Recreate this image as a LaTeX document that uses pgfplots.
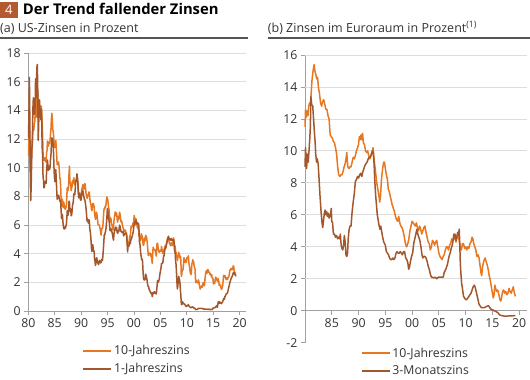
\documentclass[border=0pt]{standalone}
\usepackage{fontspec}
\setmainfont{Open Sans}
\usepackage{pgfplots}
\usepackage{pgfplotstable}
\pgfplotsset{compat=1.18}
\definecolor{orng}{HTML}{E87722}
\definecolor{brwn}{HTML}{A3572D}
\definecolor{boxc}{HTML}{B35A33}
\definecolor{axgray}{HTML}{A0A0A0}
\definecolor{gridc}{HTML}{DDDDDD}
\definecolor{txt}{HTML}{333333}
\definecolor{rulec}{HTML}{555555}

% US 10-year, monthly from Jan 1980
\pgfplotstableread[row sep=\\]{v\\
10.8\\ 12.4\\ 12.9\\ 11.5\\ 10.2\\ 9.8\\ 10.25\\ 11.1\\ 11.5\\ 11.75\\ 12.7\\ 12.85\\
12.6\\ 13.1\\ 13.1\\ 13.7\\ 14.1\\ 13.5\\ 14.3\\ 14.9\\ 15.6\\ 15.15\\ 13.4\\ 13.7\\
14.6\\ 14.4\\ 13.9\\ 13.9\\ 13.6\\ 14.3\\ 13.95\\ 13.1\\ 12.3\\ 10.9\\ 10.55\\ 10.5\\
10.5\\ 10.7\\ 10.5\\ 10.4\\ 10.4\\ 11.0\\ 11.2\\ 11.85\\ 11.65\\ 11.5\\ 11.7\\ 11.8\\
11.7\\ 11.9\\ 12.4\\ 12.7\\ 13.4\\ 13.8\\ 13.4\\ 12.7\\ 12.5\\ 12.2\\ 11.6\\ 11.5\\
11.4\\ 11.5\\ 11.9\\ 11.4\\ 10.85\\ 10.2\\ 10.3\\ 10.3\\ 10.4\\ 10.2\\ 9.8\\ 9.3\\
9.2\\ 8.7\\ 7.8\\ 7.3\\ 7.7\\ 7.8\\ 7.3\\ 7.2\\ 7.6\\ 7.4\\ 7.3\\ 7.1\\
7.1\\ 7.25\\ 7.25\\ 8.0\\ 8.6\\ 8.4\\ 8.45\\ 8.75\\ 9.6\\ 10.1\\ 8.9\\ 9.0\\
8.7\\ 8.4\\ 8.6\\ 8.7\\ 9.1\\ 8.9\\ 9.1\\ 9.3\\ 9.0\\ 8.8\\ 8.95\\ 9.1\\
9.1\\ 9.2\\ 9.4\\ 9.2\\ 8.9\\ 8.3\\ 8.0\\ 8.1\\ 8.2\\ 8.0\\ 7.9\\ 7.8\\
8.2\\ 8.5\\ 8.6\\ 8.8\\ 8.8\\ 8.5\\ 8.5\\ 8.75\\ 8.9\\ 8.7\\ 8.4\\ 8.1\\
8.1\\ 7.85\\ 8.1\\ 8.0\\ 8.1\\ 8.3\\ 8.3\\ 7.9\\ 7.65\\ 7.5\\ 7.4\\ 7.1\\
7.0\\ 7.3\\ 7.5\\ 7.5\\ 7.4\\ 7.3\\ 6.8\\ 6.6\\ 6.4\\ 6.6\\ 6.9\\ 6.8\\
6.6\\ 6.3\\ 6.0\\ 6.0\\ 6.0\\ 6.0\\ 5.8\\ 5.7\\ 5.4\\ 5.3\\ 5.7\\ 5.8\\
5.75\\ 5.97\\ 6.48\\ 6.97\\ 7.18\\ 7.10\\ 7.30\\ 7.24\\ 7.46\\ 7.74\\ 7.96\\ 7.81\\
7.78\\ 7.47\\ 7.20\\ 7.06\\ 6.63\\ 6.17\\ 6.28\\ 6.49\\ 6.20\\ 6.04\\ 5.93\\ 5.71\\
5.65\\ 5.81\\ 6.27\\ 6.51\\ 6.74\\ 6.91\\ 6.87\\ 6.64\\ 6.83\\ 6.53\\ 6.20\\ 6.30\\
6.58\\ 6.42\\ 6.69\\ 6.89\\ 6.71\\ 6.49\\ 6.22\\ 6.30\\ 6.21\\ 6.03\\ 5.88\\ 5.81\\
5.54\\ 5.57\\ 5.65\\ 5.64\\ 5.65\\ 5.50\\ 5.46\\ 5.34\\ 4.81\\ 4.53\\ 4.83\\ 4.65\\
4.72\\ 5.00\\ 5.23\\ 5.18\\ 5.54\\ 5.90\\ 5.79\\ 5.94\\ 5.92\\ 6.11\\ 6.03\\ 6.28\\
6.66\\ 6.52\\ 6.26\\ 5.99\\ 6.44\\ 6.10\\ 6.05\\ 5.83\\ 5.80\\ 5.74\\ 5.72\\ 5.24\\
5.16\\ 5.10\\ 4.89\\ 5.14\\ 5.39\\ 5.28\\ 5.24\\ 4.97\\ 4.73\\ 4.57\\ 4.65\\ 5.09\\
5.04\\ 4.91\\ 5.28\\ 5.21\\ 5.16\\ 4.93\\ 4.65\\ 4.26\\ 3.87\\ 3.94\\ 4.05\\ 4.03\\
4.05\\ 3.90\\ 3.81\\ 3.96\\ 3.57\\ 3.33\\ 3.98\\ 4.45\\ 4.27\\ 4.29\\ 4.30\\ 4.27\\
4.15\\ 4.08\\ 3.83\\ 4.35\\ 4.72\\ 4.73\\ 4.50\\ 4.28\\ 4.13\\ 4.10\\ 4.19\\ 4.23\\
4.22\\ 4.17\\ 4.50\\ 4.34\\ 4.14\\ 4.00\\ 4.18\\ 4.26\\ 4.20\\ 4.46\\ 4.54\\ 4.47\\
4.42\\ 4.57\\ 4.72\\ 4.99\\ 5.11\\ 5.11\\ 5.09\\ 4.88\\ 4.72\\ 4.73\\ 4.60\\ 4.56\\
4.76\\ 4.72\\ 4.56\\ 4.69\\ 4.75\\ 5.10\\ 5.00\\ 4.67\\ 4.52\\ 4.53\\ 4.15\\ 4.10\\
3.74\\ 3.74\\ 3.51\\ 3.68\\ 3.88\\ 4.10\\ 4.01\\ 3.89\\ 3.69\\ 3.81\\ 3.53\\ 2.42\\
2.52\\ 2.87\\ 2.82\\ 2.93\\ 3.29\\ 3.72\\ 3.56\\ 3.59\\ 3.40\\ 3.39\\ 3.40\\ 3.59\\
3.73\\ 3.69\\ 3.73\\ 3.85\\ 3.42\\ 3.20\\ 3.01\\ 2.70\\ 2.65\\ 2.54\\ 2.76\\ 3.29\\
3.39\\ 3.58\\ 3.41\\ 3.46\\ 3.17\\ 3.00\\ 3.00\\ 2.30\\ 1.98\\ 2.15\\ 2.01\\ 1.98\\
1.97\\ 1.97\\ 2.17\\ 2.05\\ 1.80\\ 1.62\\ 1.53\\ 1.68\\ 1.72\\ 1.75\\ 1.65\\ 1.72\\
1.91\\ 1.98\\ 1.96\\ 1.76\\ 1.93\\ 2.30\\ 2.58\\ 2.74\\ 2.81\\ 2.62\\ 2.72\\ 2.90\\
2.86\\ 2.71\\ 2.72\\ 2.71\\ 2.56\\ 2.60\\ 2.54\\ 2.42\\ 2.53\\ 2.30\\ 2.33\\ 2.21\\
1.88\\ 1.98\\ 2.04\\ 1.94\\ 2.20\\ 2.36\\ 2.32\\ 2.17\\ 2.17\\ 2.07\\ 2.26\\ 2.24\\
2.09\\ 1.78\\ 1.89\\ 1.81\\ 1.81\\ 1.64\\ 1.50\\ 1.56\\ 1.63\\ 1.76\\ 2.14\\ 2.49\\
2.43\\ 2.42\\ 2.48\\ 2.30\\ 2.30\\ 2.19\\ 2.32\\ 2.21\\ 2.20\\ 2.36\\ 2.35\\ 2.40\\
2.58\\ 2.86\\ 2.84\\ 2.87\\ 2.98\\ 2.91\\ 2.89\\ 2.89\\ 3.00\\ 3.15\\ 3.12\\ 2.83\\
2.71\\ 2.68\\ 2.57\\ 2.53\\
}\ustenyr

% US 1-year, monthly from Jan 1980
\pgfplotstableread[row sep=\\]{v\\
12.06\\ 13.92\\ 16.3\\ 13.30\\ 9.39\\ 7.7\\ 8.65\\ 10.24\\ 11.52\\ 12.49\\ 14.15\\ 14.88\\
14.08\\ 14.57\\ 13.71\\ 14.32\\ 16.20\\ 14.86\\ 15.72\\ 17.0\\ 17.2\\ 15.38\\ 11.9\\ 12.85\\
14.32\\ 14.73\\ 13.95\\ 13.98\\ 13.34\\ 14.07\\ 13.24\\ 11.43\\ 10.85\\ 9.32\\ 9.16\\ 8.6\\
8.62\\ 8.92\\ 9.04\\ 8.98\\ 8.90\\ 9.66\\ 10.20\\ 10.53\\ 10.16\\ 9.81\\ 9.94\\ 10.11\\
9.90\\ 10.04\\ 10.59\\ 10.90\\ 11.66\\ 12.08\\ 12.03\\ 11.82\\ 11.58\\ 10.90\\ 9.82\\ 9.33\\
9.02\\ 9.29\\ 9.86\\ 9.14\\ 8.46\\ 7.80\\ 7.86\\ 8.05\\ 8.07\\ 8.01\\ 7.88\\ 7.67\\
7.73\\ 7.61\\ 7.03\\ 6.44\\ 6.65\\ 6.73\\ 6.27\\ 5.93\\ 5.77\\ 5.72\\ 5.80\\ 5.87\\
5.78\\ 5.96\\ 6.03\\ 6.50\\ 7.00\\ 6.80\\ 6.68\\ 7.03\\ 7.67\\ 7.59\\ 6.96\\ 7.17\\
6.99\\ 6.64\\ 6.71\\ 7.01\\ 7.40\\ 7.49\\ 7.75\\ 8.17\\ 8.09\\ 8.11\\ 8.48\\ 8.99\\
9.05\\ 9.25\\ 9.57\\ 9.36\\ 8.98\\ 8.44\\ 7.89\\ 8.18\\ 8.22\\ 7.99\\ 7.77\\ 7.72\\
7.92\\ 8.11\\ 8.35\\ 8.40\\ 8.32\\ 8.10\\ 7.94\\ 7.78\\ 7.76\\ 7.55\\ 7.31\\ 7.05\\
6.64\\ 6.27\\ 6.40\\ 6.24\\ 6.13\\ 6.36\\ 6.31\\ 5.78\\ 5.57\\ 5.33\\ 4.89\\ 4.38\\
4.15\\ 4.29\\ 4.63\\ 4.30\\ 4.19\\ 4.17\\ 3.60\\ 3.47\\ 3.18\\ 3.30\\ 3.68\\ 3.71\\
3.50\\ 3.39\\ 3.33\\ 3.24\\ 3.36\\ 3.54\\ 3.47\\ 3.44\\ 3.36\\ 3.39\\ 3.58\\ 3.61\\
3.54\\ 3.87\\ 4.32\\ 4.82\\ 5.31\\ 5.27\\ 5.48\\ 5.56\\ 5.76\\ 6.11\\ 6.54\\ 7.14\\
7.05\\ 6.70\\ 6.43\\ 6.27\\ 6.00\\ 5.64\\ 5.59\\ 5.75\\ 5.62\\ 5.59\\ 5.43\\ 5.31\\
5.09\\ 4.94\\ 5.34\\ 5.54\\ 5.64\\ 5.81\\ 5.85\\ 5.67\\ 5.83\\ 5.55\\ 5.42\\ 5.47\\
5.61\\ 5.53\\ 5.80\\ 5.99\\ 5.87\\ 5.69\\ 5.54\\ 5.56\\ 5.52\\ 5.46\\ 5.46\\ 5.53\\
5.24\\ 5.31\\ 5.39\\ 5.38\\ 5.44\\ 5.41\\ 5.36\\ 5.21\\ 4.71\\ 4.12\\ 4.53\\ 4.52\\
4.51\\ 4.70\\ 4.78\\ 4.69\\ 4.85\\ 5.10\\ 5.03\\ 5.20\\ 5.25\\ 5.43\\ 5.55\\ 5.84\\
6.12\\ 6.22\\ 6.22\\ 6.15\\ 6.33\\ 6.17\\ 6.08\\ 6.18\\ 6.13\\ 6.01\\ 6.09\\ 5.60\\
4.81\\ 4.68\\ 4.30\\ 3.98\\ 3.78\\ 3.58\\ 3.62\\ 3.47\\ 2.82\\ 2.33\\ 2.18\\ 2.22\\
2.16\\ 2.23\\ 2.57\\ 2.48\\ 2.35\\ 2.20\\ 1.96\\ 1.76\\ 1.72\\ 1.65\\ 1.49\\ 1.45\\
1.36\\ 1.30\\ 1.24\\ 1.27\\ 1.18\\ 1.01\\ 1.12\\ 1.31\\ 1.24\\ 1.25\\ 1.34\\ 1.31\\
1.24\\ 1.24\\ 1.19\\ 1.43\\ 1.78\\ 2.12\\ 2.10\\ 2.02\\ 2.12\\ 2.23\\ 2.50\\ 2.67\\
2.86\\ 3.03\\ 3.30\\ 3.32\\ 3.33\\ 3.36\\ 3.64\\ 3.87\\ 3.85\\ 4.18\\ 4.33\\ 4.35\\
4.45\\ 4.68\\ 4.77\\ 4.90\\ 5.00\\ 5.16\\ 5.22\\ 5.08\\ 4.97\\ 5.01\\ 5.01\\ 4.94\\
5.06\\ 5.05\\ 4.92\\ 4.93\\ 4.91\\ 4.96\\ 4.96\\ 4.47\\ 4.14\\ 4.10\\ 3.50\\ 3.26\\
2.71\\ 2.05\\ 1.54\\ 1.74\\ 2.06\\ 2.42\\ 2.28\\ 2.18\\ 1.91\\ 1.42\\ 1.07\\ 0.49\\
0.44\\ 0.62\\ 0.64\\ 0.55\\ 0.50\\ 0.51\\ 0.48\\ 0.46\\ 0.40\\ 0.37\\ 0.31\\ 0.37\\
0.35\\ 0.35\\ 0.40\\ 0.45\\ 0.37\\ 0.32\\ 0.29\\ 0.26\\ 0.26\\ 0.23\\ 0.25\\ 0.29\\
0.27\\ 0.29\\ 0.26\\ 0.25\\ 0.19\\ 0.18\\ 0.19\\ 0.11\\ 0.10\\ 0.11\\ 0.11\\ 0.12\\
0.12\\ 0.16\\ 0.19\\ 0.18\\ 0.19\\ 0.19\\ 0.19\\ 0.18\\ 0.18\\ 0.18\\ 0.18\\ 0.16\\
0.15\\ 0.16\\ 0.15\\ 0.12\\ 0.12\\ 0.14\\ 0.12\\ 0.13\\ 0.12\\ 0.12\\ 0.12\\ 0.13\\
0.12\\ 0.12\\ 0.13\\ 0.11\\ 0.10\\ 0.10\\ 0.11\\ 0.11\\ 0.11\\ 0.10\\ 0.13\\ 0.21\\
0.20\\ 0.22\\ 0.25\\ 0.23\\ 0.24\\ 0.28\\ 0.30\\ 0.38\\ 0.37\\ 0.26\\ 0.48\\ 0.65\\
0.54\\ 0.53\\ 0.66\\ 0.56\\ 0.59\\ 0.55\\ 0.51\\ 0.57\\ 0.59\\ 0.66\\ 0.74\\ 0.87\\
0.83\\ 0.82\\ 1.01\\ 1.04\\ 1.12\\ 1.20\\ 1.22\\ 1.23\\ 1.28\\ 1.40\\ 1.56\\ 1.70\\
1.80\\ 1.96\\ 2.06\\ 2.15\\ 2.27\\ 2.33\\ 2.39\\ 2.45\\ 2.56\\ 2.65\\ 2.70\\ 2.66\\
2.56\\ 2.55\\ 2.49\\ 2.42\\
}\usoneyr

\pgfplotsset{
  zinsaxis/.style={
    scale only axis,
    axis y line*=left,
    axis line style={axgray, line width=0.8pt},
    tick align=outside,
    major tick length=4pt,
    tick style={axgray, line width=0.8pt},
    xtick={0,5,...,40},
    xticklabels={80,85,90,95,00,05,10,15,20},
    ticklabel style={font=\fontsize{12.3}{14}\selectfont, text=txt},
    major grid style={gridc, line width=0.8pt},
    clip=false,
    legend style={draw=none, fill=none, font=\fontsize{12.3}{14}\selectfont, text=txt,
      anchor=north, row sep=3pt, inner sep=0pt},
    legend cell align=left,
    legend image code/.code={\draw[##1, line width=1.6pt] (0pt,0pt) -- (28pt,0pt);},
  }
}

\begin{document}
\begin{tikzpicture}
\path[use as bounding box] (0pt,0pt) rectangle (530pt,380pt);
% header
\fill[boxc] (0pt,362.3pt) rectangle (17.7pt,378.3pt);
\node[text=white, font=\fontsize{13}{13}\selectfont, inner sep=0pt] at (8.85pt,370.3pt) {4};
\node[anchor=base west, inner sep=0pt, font=\fontsize{14.8}{16}\selectfont\bfseries, text=black] at (22.7pt,365pt) {Der Trend fallender Zinsen};
\node[anchor=base west, inner sep=0pt, font=\fontsize{12.5}{14}\selectfont, text=txt] at (0pt,347.7pt) {(a) US-Zinsen in Prozent};
\node[anchor=base west, inner sep=0pt, font=\fontsize{12.5}{14}\selectfont, text=txt] at (267.7pt,347.7pt) {(b) Zinsen im Euroraum in Prozent\textsuperscript{(1)}};
\draw[rulec, line width=1.6pt] (0pt,341.7pt) -- (248pt,341.7pt);
\draw[rulec, line width=1.6pt] (267.7pt,341.7pt) -- (530pt,341.7pt);

% left panel
\begin{axis}[zinsaxis,
  at={(28.3pt,69pt)}, anchor=south west,
  width=217.7pt, height=258pt,
  xmin=0, xmax=41.2, ymin=0, ymax=18,
  axis x line*=bottom,
  ytick={0,2,...,18},
  yticklabels={0,2,4,6,8,10,12,14,16,18},
  ymajorgrids,
  legend style={at={(0.5,-0.125)}},
]
\addplot[orng, line width=1.5pt, line join=round] table[x expr=\coordindex/12+0.0417, y=v] {\ustenyr};
\addlegendentry{10-Jahreszins}
\addplot[brwn, line width=1.5pt, line join=round] table[x expr=\coordindex/12+0.0417, y=v] {\usoneyr};
\addlegendentry{1-Jahreszins}
\end{axis}

% right panel
\begin{axis}[zinsaxis,
  at={(305pt,37.3pt)}, anchor=south west,
  width=221.7pt, height=287.7pt,
  xmin=0, xmax=41.4, ymin=-2, ymax=16,
  axis x line*=middle,
  ytick={-2,0,...,16},
  yticklabels={-2,0,2,4,6,8,10,12,14,16},
  extra y ticks={2,4,...,16},
  extra y tick labels={},
  extra y tick style={ymajorgrids=true, major tick length=0pt},
  legend style={at={(0.5,-0.01)}},
]
\addplot[orng, line width=1.5pt, line join=round] coordinates {
(0,11.5)(0.1,12.6)(0.25,12.1)(0.4,12.5)(0.55,12.2)(0.7,12.8)(0.85,13.0)(1.0,12.9)(1.15,13.6)(1.3,14.4)(1.5,15.0)(1.7,15.4)(1.85,15.0)(2.0,14.8)(2.2,14.5)(2.35,14.6)(2.5,14.0)(2.7,13.6)(2.9,13.0)(3.1,12.8)(3.3,13.1)(3.5,13.2)(3.7,12.9)(3.9,12.6)(4.1,12.6)(4.3,12.2)(4.5,12.0)(4.7,11.0)(4.9,10.9)(5.1,10.8)(5.3,10.6)(5.5,10.5)(5.7,10.2)(5.9,9.8)(6.1,9.0)(6.3,8.5)(6.5,8.4)(6.7,8.5)(6.9,8.5)(7.1,8.7)(7.3,9.0)(7.5,9.2)(7.7,9.6)(7.8,9.9)(7.9,9.4)(8.0,9.0)(8.2,8.9)(8.4,9.0)(8.6,9.0)(8.8,9.3)(9.0,9.6)(9.2,9.5)(9.4,9.7)(9.6,10.0)(9.8,10.2)(10.0,10.4)(10.15,10.9)(10.3,10.7)(10.45,11.0)(10.6,10.7)(10.75,11.1)(10.9,10.5)(11.1,10.4)(11.3,10.0)(11.5,9.9)(11.7,10.0)(11.9,9.7)(12.1,9.5)(12.3,9.7)(12.5,9.9)(12.7,10.2)(12.85,9.6)(13.0,9.2)(13.2,8.6)(13.4,8.0)(13.6,7.6)(13.8,7.2)(13.95,6.8)(14.1,7.2)(14.3,8.3)(14.5,8.9)(14.7,9.3)(14.85,9.3)(15.0,8.9)(15.2,8.5)(15.4,8.2)(15.55,7.6)(15.7,7.5)(15.9,7.2)(16.1,6.9)(16.3,6.6)(16.5,6.4)(16.7,6.2)(16.9,5.9)(17.1,5.7)(17.3,5.6)(17.5,5.9)(17.7,5.5)(17.9,5.3)(18.1,5.2)(18.3,5.0)(18.5,4.7)(18.7,4.3)(18.85,4.1)(19.0,4.0)(19.2,4.2)(19.4,4.5)(19.6,5.0)(19.8,5.3)(20.0,5.6)(20.2,5.5)(20.4,5.4)(20.6,5.3)(20.8,5.5)(21.0,5.2)(21.2,5.0)(21.4,5.3)(21.6,5.1)(21.8,4.8)(22.0,5.0)(22.2,5.2)(22.4,5.3)(22.6,4.9)(22.8,4.6)(23.0,4.3)(23.2,4.2)(23.4,3.8)(23.6,4.0)(23.8,4.4)(24.0,4.3)(24.2,4.1)(24.4,4.3)(24.6,4.4)(24.8,4.0)(25.0,3.6)(25.2,3.4)(25.4,3.3)(25.6,3.2)(25.8,3.4)(26.0,3.5)(26.2,3.8)(26.4,4.0)(26.6,4.0)(26.8,3.8)(27.0,4.1)(27.2,4.2)(27.4,4.5)(27.6,4.4)(27.8,4.5)(28.0,4.6)(28.2,4.3)(28.4,4.7)(28.6,4.6)(28.8,4.4)(29.0,3.9)(29.2,3.8)(29.4,4.2)(29.6,4.2)(29.8,3.9)(30.0,4.0)(30.2,3.8)(30.4,4.0)(30.6,3.9)(30.8,4.2)(31.0,4.3)(31.2,4.6)(31.35,4.5)(31.5,4.2)(31.7,4.0)(31.9,3.8)(32.1,3.4)(32.3,3.5)(32.5,3.3)(32.7,2.8)(32.85,2.4)(33.0,2.2)(33.1,2.6)(33.3,3.0)(33.5,3.2)(33.65,3.3)(33.8,3.1)(34.0,2.9)(34.2,2.6)(34.4,2.2)(34.6,1.9)(34.8,1.5)(35.0,1.1)(35.15,0.8)(35.3,1.0)(35.45,1.6)(35.6,1.4)(35.8,1.2)(36.0,1.3)(36.2,1.0)(36.4,0.7)(36.55,0.6)(36.7,0.8)(36.9,1.2)(37.1,1.3)(37.3,1.1)(37.5,1.2)(37.7,1.0)(37.9,1.1)(38.1,1.4)(38.3,1.2)(38.5,1.1)(38.7,1.3)(38.9,1.5)(39.1,1.1)(39.3,0.9)
};
\addlegendentry{10-Jahreszins}
\addplot[brwn, line width=1.5pt, line join=round] coordinates {
(0,9.0)(0.1,10.2)(0.2,9.5)(0.3,8.9)(0.45,9.8)(0.6,9.3)(0.75,10.0)(0.9,10.8)(1.0,11.5)(1.1,13.4)(1.25,12.9)(1.45,12.8)(1.6,12.0)(1.75,11.2)(1.9,10.5)(2.0,9.8)(2.15,9.3)(2.3,9.5)(2.45,9.2)(2.6,8.4)(2.8,7.2)(3.0,6.2)(3.15,5.6)(3.3,5.2)(3.45,5.6)(3.6,6.1)(3.75,6.3)(3.9,6.0)(4.05,6.2)(4.2,5.9)(4.35,6.1)(4.5,5.8)(4.65,5.9)(4.8,6.1)(4.9,6.4)(5.0,5.6)(5.15,5.5)(5.3,4.8)(5.5,4.8)(5.7,4.6)(5.9,4.7)(6.1,4.5)(6.3,4.6)(6.45,4.5)(6.6,4.8)(6.75,4.1)(6.9,3.9)(7.05,3.8)(7.2,4.1)(7.35,4.7)(7.5,4.3)(7.65,3.5)(7.8,3.4)(7.95,3.6)(8.05,4.4)(8.2,5.0)(8.4,5.3)(8.6,5.3)(8.8,6.2)(9.0,6.8)(9.2,7.3)(9.4,8.1)(9.6,8.2)(9.8,8.4)(10.0,8.3)(10.2,8.5)(10.4,8.6)(10.6,8.4)(10.8,8.7)(11.0,8.9)(11.2,9.1)(11.4,9.2)(11.6,9.3)(11.8,9.5)(12.0,9.6)(12.2,9.6)(12.4,9.8)(12.6,10.0)(12.75,9.9)(12.9,9.2)(13.05,8.0)(13.2,7.2)(13.35,6.6)(13.5,6.0)(13.7,5.6)(13.85,5.3)(14.0,5.1)(14.15,5.3)(14.3,5.0)(14.5,4.6)(14.7,4.3)(14.85,4.2)(15.0,4.1)(15.2,3.7)(15.4,3.6)(15.6,3.5)(15.8,3.3)(16.0,3.2)(16.2,3.2)(16.4,3.3)(16.6,3.2)(16.8,3.3)(17.0,3.6)(17.2,3.7)(17.4,3.6)(17.6,3.6)(17.8,3.7)(18.0,3.6)(18.2,3.5)(18.4,3.7)(18.6,3.7)(18.8,3.3)(19.0,3.2)(19.2,3.0)(19.35,2.6)(19.5,2.7)(19.7,3.1)(19.9,3.4)(20.1,3.6)(20.3,4.2)(20.5,4.5)(20.7,4.8)(20.9,5.1)(21.05,4.8)(21.25,4.6)(21.45,4.4)(21.65,4.0)(21.85,3.5)(22.0,3.3)(22.2,3.4)(22.4,3.4)(22.6,3.3)(22.8,3.1)(23.0,2.8)(23.2,2.6)(23.4,2.3)(23.6,2.1)(23.8,2.1)(24.0,2.05)(24.3,2.1)(24.6,2.0)(24.9,2.1)(25.2,2.1)(25.5,2.1)(25.8,2.1)(26.0,2.4)(26.3,2.6)(26.6,2.9)(26.9,3.4)(27.1,3.6)(27.3,3.9)(27.5,4.1)(27.7,4.5)(27.8,4.8)(27.9,4.6)(28.0,4.8)(28.2,4.4)(28.35,4.6)(28.5,4.9)(28.65,4.7)(28.8,5.1)(28.9,4.2)(29.0,3.0)(29.1,2.4)(29.25,1.7)(29.4,1.4)(29.6,0.9)(29.8,0.8)(30.0,0.7)(30.2,0.7)(30.4,0.8)(30.6,0.9)(30.8,1.0)(31.0,1.1)(31.2,1.3)(31.4,1.5)(31.6,1.6)(31.75,1.5)(31.9,1.3)(32.1,1.0)(32.3,0.7)(32.5,0.4)(32.7,0.3)(32.9,0.2)(33.2,0.2)(33.5,0.2)(33.8,0.25)(34.1,0.3)(34.3,0.3)(34.5,0.2)(34.7,0.1)(34.9,0.07)(35.1,0.05)(35.3,0.0)(35.5,-0.02)(35.7,-0.05)(35.9,-0.1)(36.1,-0.15)(36.3,-0.25)(36.5,-0.28)(36.8,-0.31)(37.1,-0.33)(37.5,-0.33)(37.9,-0.33)(38.3,-0.32)(38.7,-0.32)(39.0,-0.31)(39.3,-0.31)
};
\addlegendentry{3-Monatszins}
\end{axis}
\end{tikzpicture}
\end{document}
